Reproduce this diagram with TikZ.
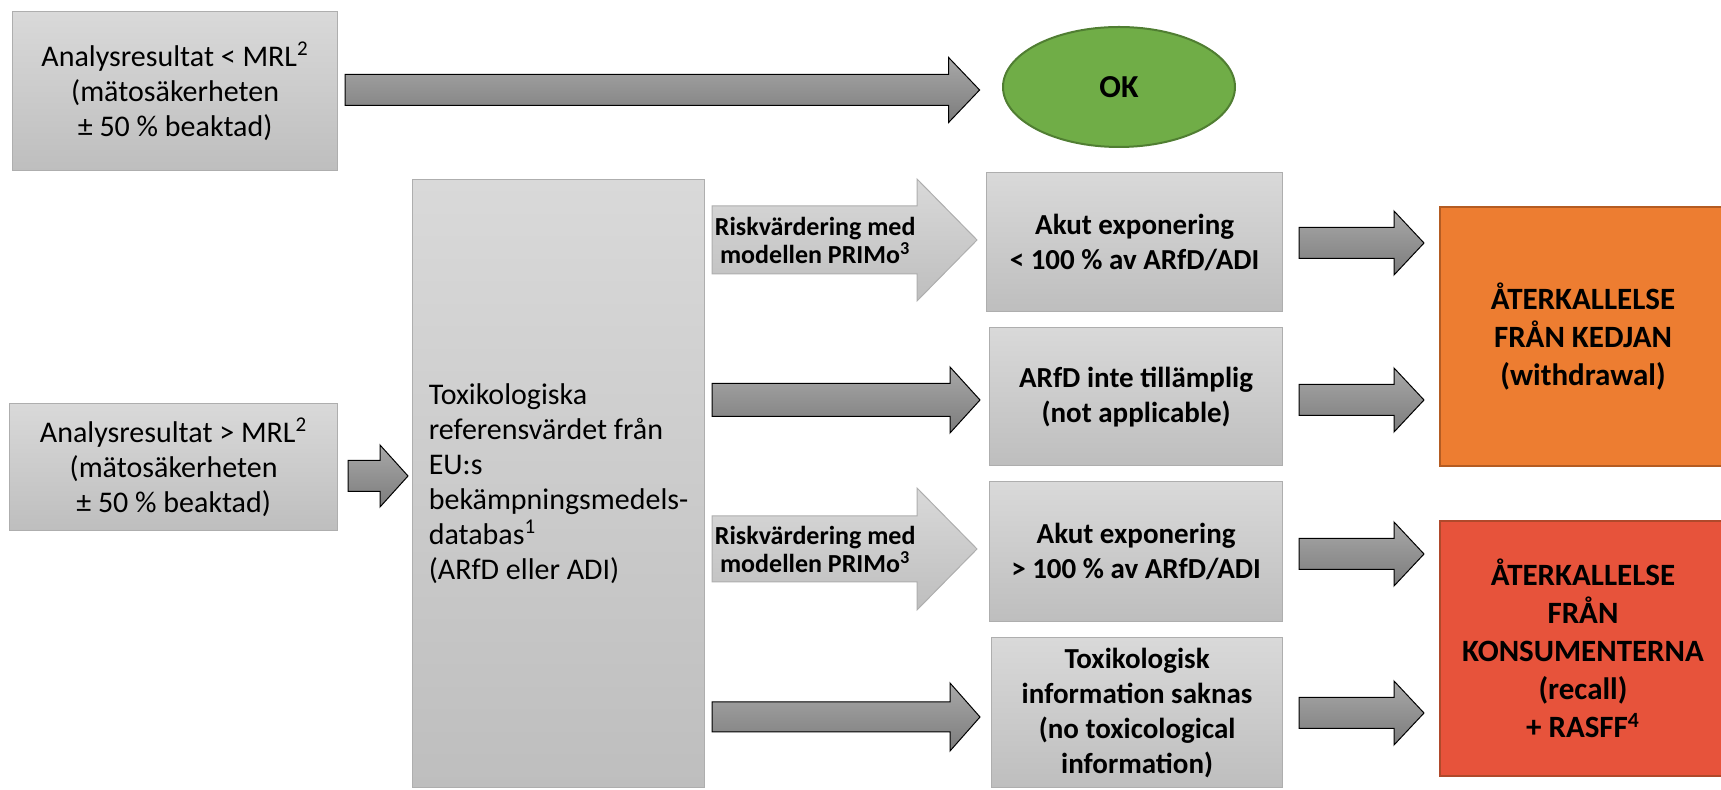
\documentclass[tikz,border=0pt]{standalone}
\usepackage{fontspec}
\setmainfont{Carlito}
\usetikzlibrary{calc,shapes.geometric}
\definecolor{boxtop}{HTML}{D9D9D9}
\definecolor{boxbot}{HTML}{BEBEBE}
\definecolor{boxline}{HTML}{AEAEAE}
\definecolor{darktop}{HTML}{A8A8A8}
\definecolor{darkbot}{HTML}{7C7C7C}
\definecolor{okfill}{HTML}{70AD47}
\definecolor{okline}{HTML}{507E32}
\definecolor{orfill}{HTML}{ED7D31}
\definecolor{orline}{HTML}{B45C22}
\definecolor{redfill}{HTML}{E7533B}
\definecolor{redline}{HTML}{B0492B}
\tikzset{
  graybox/.style={rectangle, draw=boxline, line width=0.6pt, top color=boxtop, bottom color=boxbot,
    anchor=north west, inner sep=0pt, align=center},
  regtext/.style={font=\fontsize{15}{17.5}\selectfont},
  boldtext/.style={font=\fontsize{14.5}{17.5}\selectfont\bfseries},
  bigbold/.style={font=\fontsize{15.5}{19}\selectfont\bfseries},
  risktext/.style={font=\fontsize{13}{14}\selectfont\bfseries, align=center, inner sep=0pt},
  darkarrow/.style={draw=black, line width=0.5pt, top color=darktop, bottom color=darkbot},
  lightarrow/.style={draw=boxline, line width=0.5pt, top color=boxtop, bottom color=boxbot},
  colbox/.style={rectangle, anchor=north west, inner sep=0pt, align=center, line width=1pt},
  okshape/.style={fill=okfill, draw=okline, line width=1pt},
}
% #1 style, #2 tail coordinate, #3 tip coordinate, #4 shaft half, #5 head half, #6 head length
\newcommand\barrow[6]{%
  \path[#1] ($(#2)+(0,-#4)$) -- ($(#3)+(-#6,-#4)$) -- ($(#3)+(-#6,-#5)$) -- (#3)
    -- ($(#3)+(-#6,#5)$) -- ($(#3)+(-#6,#4)$) -- ($(#2)+(0,#4)$) -- cycle;}
\begin{document}
\begin{tikzpicture}[x=0.5pt,y=-0.5pt]
\useasboundingbox (0,0) rectangle (1721,790);

% boxes
\node[graybox, regtext, minimum width=162.5pt, minimum height=79.5pt] (box1) at (12,11)
  {Analysresultat < MRL\textsuperscript{2}\\(mätosäkerheten\\± 50 \% beaktad)};
\node[graybox, regtext, minimum width=164pt, minimum height=63.5pt] (box2) at (9,403)
  {Analysresultat > MRL\textsuperscript{2}\\(mätosäkerheten\\± 50 \% beaktad)};
\node[graybox, regtext, align=left, minimum width=146pt, minimum height=304pt] (tall) at (412,179)
  {Toxikologiska\\referensvärdet från\\EU:s\\bekämpningsmedels-\\databas\textsuperscript{1}\\(ARfD eller ADI)};
\node[graybox, boldtext, minimum width=148pt, minimum height=69.5pt] (akut1) at (986,172)
  {Akut exponering\\< 100 \% av ARfD/ADI};
\node[graybox, boldtext, minimum width=146.5pt, minimum height=69pt] (arfd) at (989,327)
  {ARfD inte tillämplig\\(not applicable)};
\node[graybox, boldtext, minimum width=146.5pt, minimum height=70pt] (akut2) at (989,481)
  {Akut exponering\\> 100 \% av ARfD/ADI};
\node[graybox, boldtext, minimum width=145.5pt, minimum height=75pt] (tox) at (991,637)
  {Toxikologisk\\information saknas\\(no toxicological\\information)};
\node[colbox, bigbold, fill=orfill, draw=orline, minimum width=143pt, minimum height=129.5pt] (orange) at (1439,206)
  {ÅTERKALLELSE\\FRÅN KEDJAN\\(withdrawal)};
\node[colbox, bigbold, fill=redfill, draw=redline, minimum width=143pt, minimum height=127.5pt] (red) at (1439,520)
  {ÅTERKALLELSE\\FRÅN\\KONSUMENTERNA\\(recall)\\+ RASFF\textsuperscript{4}};
\path[okshape] (1119,87) ellipse [x radius=116, y radius=60];
\node[rectangle, inner sep=0pt, minimum width=116pt, minimum height=60pt,
  font=\fontsize{16}{19}\selectfont\bfseries] (ok) at (1119,87) {OK};

% arrow end points
\coordinate (a1s) at ($(box1.east |- 0,90)+(7,0)$);
\coordinate (a1e) at ($(ok.west |- 0,90)+(-23,0)$);
\coordinate (a2s) at ($(box2.east |- 0,476)+(10,0)$);
\coordinate (a2e) at ($(tall.west |- 0,476)+(-4,0)$);
\coordinate (r1s) at ($(tall.east |- 0,240)+(7,0)$);
\coordinate (r1e) at ($(akut1.west |- 0,240)+(-9,0)$);
\coordinate (d2s) at ($(tall.east |- 0,400)+(7,0)$);
\coordinate (d2e) at ($(arfd.west |- 0,400)+(-9,0)$);
\coordinate (r2s) at ($(tall.east |- 0,549)+(7,0)$);
\coordinate (r2e) at ($(akut2.west |- 0,549)+(-12,0)$);
\coordinate (d4s) at ($(tall.east |- 0,717)+(7,0)$);
\coordinate (d4e) at ($(tox.west |- 0,717)+(-11,0)$);
\coordinate (e1s) at ($(akut1.east |- 0,243)+(16,0)$);
\coordinate (e1e) at ($(orange.west |- 0,243)+(-15,0)$);
\coordinate (e2s) at ($(arfd.east |- 0,400)+(16,0)$);
\coordinate (e2e) at ($(orange.west |- 0,400)+(-15,0)$);
\coordinate (e3s) at ($(akut2.east |- 0,554)+(16,0)$);
\coordinate (e3e) at ($(red.west |- 0,554)+(-15,0)$);
\coordinate (e4s) at ($(tox.east |- 0,713)+(16,0)$);
\coordinate (e4e) at ($(red.west |- 0,713)+(-15,0)$);

% block arrows
\barrow{darkarrow}{a1s}{a1e}{15.5}{32.5}{31}
\barrow{darkarrow}{a2s}{a2e}{15.5}{31}{28}
\barrow{lightarrow}{r1s}{r1e}{34}{61}{60}
\barrow{darkarrow}{d2s}{d2e}{16.5}{33}{30}
\barrow{lightarrow}{r2s}{r2e}{33}{61}{60}
\barrow{darkarrow}{d4s}{d4e}{15}{34}{30}
\barrow{darkarrow}{e1s}{e1e}{15.5}{32}{30}
\barrow{darkarrow}{e2s}{e2e}{15.5}{32}{30}
\barrow{darkarrow}{e3s}{e3e}{15.5}{32}{30}
\barrow{darkarrow}{e4s}{e4e}{15.5}{32}{30}

% labels on the light arrows
\node[risktext] (r1lbl) at ($(r1s)+(103,0)$) {Riskvärdering med\\modellen PRIMo\textsuperscript{3}};
\node[risktext] (r2lbl) at ($(r2s)+(103,0)$) {Riskvärdering med\\modellen PRIMo\textsuperscript{3}};
\end{tikzpicture}
\end{document}
